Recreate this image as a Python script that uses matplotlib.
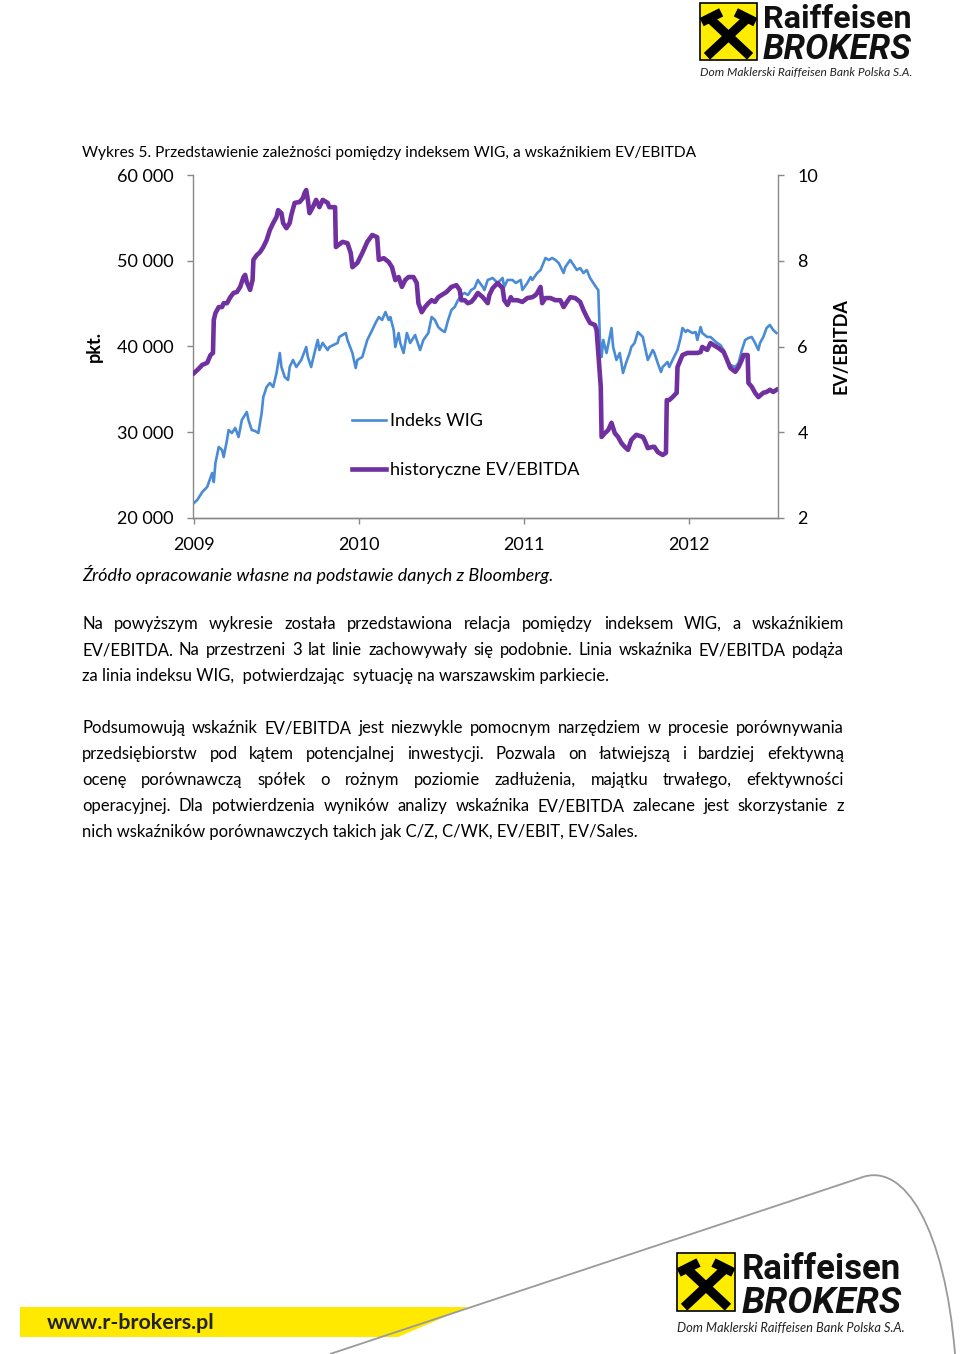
import matplotlib
matplotlib.use("Agg")
import matplotlib.pyplot as plt
from matplotlib.ticker import FuncFormatter, FixedLocator
from matplotlib.patches import Rectangle, Polygon, PathPatch
from matplotlib.path import Path
from matplotlib.lines import Line2D

plt.rcParams['font.family'] = ['Lato', 'DejaVu Sans']

# ---- data ----
wig_dates = [
    2009.00, 2009.02, 2009.05, 2009.08, 2009.11, 2009.12, 2009.13, 2009.15, 2009.17, 2009.18,
    2009.20, 2009.21, 2009.23, 2009.25, 2009.27, 2009.29, 2009.32, 2009.33, 2009.35, 2009.37,
    2009.39, 2009.41, 2009.42, 2009.44, 2009.46, 2009.48, 2009.50, 2009.52, 2009.53, 2009.55,
    2009.57, 2009.58, 2009.60, 2009.62, 2009.65, 2009.68, 2009.69, 2009.71, 2009.73, 2009.75,
    2009.76, 2009.78, 2009.81, 2009.82, 2009.87, 2009.88, 2009.92, 2009.93, 2009.96, 2009.98,
    2009.99, 2010.02, 2010.05, 2010.08, 2010.10, 2010.12, 2010.14, 2010.16, 2010.18, 2010.19,
    2010.21, 2010.22, 2010.24, 2010.25, 2010.27, 2010.29, 2010.31, 2010.34, 2010.37, 2010.39,
    2010.42, 2010.44, 2010.46, 2010.48, 2010.50, 2010.52, 2010.54, 2010.56, 2010.58, 2010.60,
    2010.62, 2010.64, 2010.66, 2010.68, 2010.70, 2010.72, 2010.75, 2010.76, 2010.78, 2010.81,
    2010.84, 2010.87, 2010.88, 2010.90, 2010.93, 2010.95, 2010.98, 2010.99, 2011.02, 2011.04,
    2011.05, 2011.08, 2011.10, 2011.13, 2011.15, 2011.17, 2011.19, 2011.21, 2011.24, 2011.25,
    2011.28, 2011.30, 2011.32, 2011.34, 2011.36, 2011.38, 2011.40, 2011.42, 2011.44, 2011.45,
    2011.46, 2011.47, 2011.48, 2011.50, 2011.53, 2011.54, 2011.56, 2011.58, 2011.60, 2011.62,
    2011.64, 2011.65, 2011.67, 2011.69, 2011.72, 2011.73, 2011.75, 2011.78, 2011.79, 2011.81,
    2011.83, 2011.84, 2011.87, 2011.88, 2011.90, 2011.93, 2011.95, 2011.96, 2011.98, 2011.99,
    2012.02, 2012.04, 2012.05, 2012.07, 2012.08, 2012.11, 2012.13, 2012.15, 2012.17, 2012.19,
    2012.21, 2012.23, 2012.25, 2012.28, 2012.30, 2012.32, 2012.34, 2012.36, 2012.38, 2012.40,
    2012.42, 2012.43, 2012.45, 2012.47, 2012.49, 2012.51, 2012.53,
]
wig_values = [
    21750, 22100, 23030, 23620, 25250, 24200, 26410, 28280, 27930, 27110,
    29100, 30260, 29910, 30500, 29450, 31430, 32360, 31430, 30260, 30150,
    29910, 32240, 34110, 35280, 35740, 35280, 36910, 39240, 37610, 36440,
    36090, 37610, 38430, 37610, 38430, 39940, 38780, 37610, 39240, 40760,
    39590, 40410, 39590, 39940, 40410, 41110, 41570, 40760, 39240, 37490,
    38430, 38780, 40760, 41920, 42740, 43440, 43090, 44020, 43090, 43440,
    41920, 39940, 41570, 40410, 39240, 41570, 40410, 41340, 39590, 40760,
    41570, 43440, 43090, 42270, 41920, 41690, 43090, 44260, 44610, 45420,
    46010, 46240, 46010, 46590, 46820, 47760, 46940, 46590, 47760, 47990,
    47410, 47990, 46940, 47760, 47760, 47410, 47760, 46590, 47410, 48100,
    47760, 48570, 48920, 50320, 50090, 50320, 50090, 49740, 48570, 49270,
    50090, 49500, 48920, 49150, 48570, 48920, 47990, 47410, 46820, 46590,
    40760, 38780, 40760, 39240, 42160, 39940, 38430, 39240, 36910, 38190,
    39240, 39940, 40410, 41690, 41110, 40170, 38430, 39590, 39240, 38080,
    37030, 37610, 38190, 37610, 38430, 39590, 41110, 42160, 41690, 41920,
    41570, 41690, 40760, 42270, 41570, 41110, 41110, 40760, 40410, 40170,
    39590, 38430, 37840, 37610, 38080, 39590, 40760, 40990, 41110, 40410,
    39590, 40410, 41110, 42160, 42510, 41920, 41570,
]

ev_dates = [
    2009.00, 2009.02, 2009.05, 2009.08, 2009.10, 2009.115, 2009.12, 2009.13, 2009.15, 2009.17,
    2009.18, 2009.20, 2009.22, 2009.24, 2009.26, 2009.28, 2009.30, 2009.31, 2009.32, 2009.34,
    2009.355, 2009.36, 2009.38, 2009.40, 2009.42, 2009.44, 2009.46, 2009.48, 2009.50, 2009.51,
    2009.53, 2009.54, 2009.56, 2009.58, 2009.59, 2009.61, 2009.64, 2009.66, 2009.67, 2009.68,
    2009.69, 2009.70, 2009.72, 2009.74, 2009.76, 2009.78, 2009.81, 2009.82, 2009.855, 2009.86,
    2009.90, 2009.93, 2009.95, 2009.96, 2009.99, 2010.02, 2010.05, 2010.08, 2010.11, 2010.12,
    2010.15, 2010.18, 2010.20, 2010.22, 2010.24, 2010.26, 2010.28, 2010.30, 2010.33, 2010.35,
    2010.36, 2010.38, 2010.40, 2010.42, 2010.44, 2010.46, 2010.48, 2010.50, 2010.53, 2010.56,
    2010.59, 2010.61, 2010.62, 2010.64, 2010.66, 2010.68, 2010.70, 2010.72, 2010.75, 2010.78,
    2010.79, 2010.81, 2010.84, 2010.87, 2010.88, 2010.90, 2010.92, 2010.93, 2010.96, 2010.99,
    2011.02, 2011.05, 2011.07, 2011.08, 2011.10, 2011.11, 2011.13, 2011.16, 2011.19, 2011.22,
    2011.24, 2011.26, 2011.28, 2011.31, 2011.34, 2011.36, 2011.38, 2011.40, 2011.43, 2011.44,
    2011.45, 2011.465, 2011.47, 2011.49, 2011.51, 2011.53, 2011.55, 2011.57, 2011.59, 2011.61,
    2011.63, 2011.65, 2011.68, 2011.72, 2011.73, 2011.75, 2011.78, 2011.79, 2011.81, 2011.84,
    2011.86, 2011.865, 2011.88, 2011.90, 2011.925, 2011.93, 2011.96, 2011.99, 2012.02, 2012.05,
    2012.07, 2012.08, 2012.11, 2012.13, 2012.15, 2012.18, 2012.21, 2012.23, 2012.25, 2012.28,
    2012.30, 2012.32, 2012.33, 2012.355, 2012.36, 2012.38, 2012.40, 2012.42, 2012.45, 2012.47,
    2012.49, 2012.51, 2012.53,
]
ev_values = [
    5.38, 5.45, 5.57, 5.62, 5.80, 5.85, 6.62, 6.78, 6.92, 6.92,
    7.01, 7.01, 7.15, 7.25, 7.27, 7.39, 7.62, 7.67, 7.50, 7.32,
    7.55, 8.02, 8.13, 8.20, 8.32, 8.48, 8.72, 8.88, 9.02, 9.18,
    9.11, 8.88, 8.76, 8.88, 9.07, 9.35, 9.37, 9.46, 9.58, 9.65,
    9.42, 9.11, 9.25, 9.42, 9.25, 9.42, 9.35, 9.25, 9.25, 8.32,
    8.44, 8.41, 8.18, 7.85, 7.95, 8.18, 8.44, 8.60, 8.55, 8.02,
    8.06, 7.97, 7.85, 7.55, 7.62, 7.39, 7.55, 7.62, 7.62, 7.48,
    7.01, 6.80, 6.92, 7.01, 7.08, 7.04, 7.15, 7.20, 7.27, 7.39,
    7.43, 7.32, 7.08, 7.08, 7.01, 7.04, 7.13, 7.25, 7.15, 7.01,
    7.20, 7.36, 7.48, 7.36, 7.08, 6.97, 7.15, 7.08, 7.08, 7.04,
    7.13, 7.15, 7.20, 7.25, 7.39, 7.01, 7.13, 7.13, 7.08, 7.08,
    6.92, 7.04, 7.15, 7.13, 7.04, 6.85, 6.69, 6.55, 6.50, 6.38,
    5.85, 5.06, 3.89, 3.98, 4.05, 4.22, 3.98, 3.89, 3.75, 3.66,
    3.59, 3.82, 3.94, 3.89, 3.82, 3.63, 3.66, 3.66, 3.54, 3.47,
    3.52, 4.75, 4.75, 4.82, 4.92, 5.52, 5.80, 5.85, 5.85, 5.85,
    5.87, 5.99, 5.92, 6.08, 6.03, 5.96, 5.87, 5.69, 5.50, 5.41,
    5.52, 5.69, 5.80, 5.80, 5.15, 5.06, 4.92, 4.82, 4.92, 4.94,
    4.99, 4.94, 4.99,
]

years = [2009, 2010, 2011, 2012]
wig_ticks = [20000, 30000, 40000, 50000, 60000]
ev_ticks = [2, 4, 6, 8, 10]

title = "Wykres 5. Przedstawienie zależności pomiędzy indeksem WIG, a wskaźnikiem EV/EBITDA"
source = "Źródło opracowanie własne na podstawie danych z Bloomberg."
para1 = [
    "Na powyższym wykresie została przedstawiona relacja pomiędzy indeksem WIG, a wskaźnikiem",
    "EV/EBITDA. Na przestrzeni 3 lat linie zachowywały się podobnie. Linia wskaźnika EV/EBITDA podąża",
    "za linia indeksu WIG,  potwierdzając  sytuację na warszawskim parkiecie.",
]
para2 = [
    "Podsumowują wskaźnik EV/EBITDA jest niezwykle pomocnym narzędziem w procesie porównywania",
    "przedsiębiorstw pod kątem potencjalnej inwestycji. Pozwala on  łatwiejszą i bardziej efektywną",
    "ocenę porównawczą spółek o rożnym poziomie zadłużenia, majątku trwałego, efektywności",
    "operacyjnej. Dla potwierdzenia wyników analizy wskaźnika EV/EBITDA zalecane jest  skorzystanie z",
    "nich wskaźników porównawczych takich jak C/Z, C/WK, EV/EBIT, EV/Sales.",
]

BLUE = "#4a8bd6"
PURPLE = "#7030a0"
GREY = "#898989"

W, H = 960, 1354
fig = plt.figure(figsize=(W / 100, H / 100), dpi=100)
renderer = fig.canvas.get_renderer()


def fx(x):
    return x / W


def fy(y):
    return 1 - y / H


def text_width(s, **kw):
    t = fig.text(0, 0, s, **kw)
    w = t.get_window_extent(renderer).width
    t.remove()
    return w


def fit_size(s, width, **kw):
    return 10 * width / text_width(s, fontsize=10, **kw)


# ---- chart ----
ax = fig.add_axes([fx(193), fy(518), (778 - 193) / W, (518 - 175) / H])
ax2 = ax.twinx()

l1, = ax.plot(wig_dates, wig_values, color=BLUE, lw=1.9, solid_joinstyle='round', label="Indeks WIG")
l2, = ax2.plot(ev_dates, ev_values, color=PURPLE, lw=3.3, solid_joinstyle='round',
               label="historyczne EV/EBITDA")

ax.set_xlim(2008.994, 2012.539)
ax.set_ylim(20000, 60000)
ax2.set_ylim(2, 10)
ax.xaxis.set_major_locator(FixedLocator(years))
ax.set_xticklabels([str(y) for y in years])
ax.yaxis.set_major_locator(FixedLocator(wig_ticks))
ax.yaxis.set_major_formatter(FuncFormatter(lambda v, p: f"{int(v):,}".replace(",", " ")))
ax2.yaxis.set_major_locator(FixedLocator(ev_ticks))

for a in (ax, ax2):
    a.spines['top'].set_visible(False)
    for s in ('left', 'right', 'bottom'):
        a.spines[s].set_color(GREY)
        a.spines[s].set_linewidth(1.0)
    a.tick_params(colors=GREY, labelcolor="black", labelsize=13, length=4, width=1.0, pad=10)
ax2.spines['left'].set_visible(False)
ax.spines['right'].set_visible(False)

ax.set_ylabel("pkt.", fontsize=13, fontweight='bold')
ax.yaxis.set_label_coords(-0.154, 0.5)
ax2.set_ylabel("EV/EBITDA", fontsize=13, fontweight='bold')
ax2.yaxis.set_label_coords(1.094, 0.5)

ax2.legend(handles=[l1, l2], loc='center left', bbox_to_anchor=(0.272, 0.211), frameon=False,
           fontsize=13, handlelength=1.85, handletextpad=0.25, labelspacing=1.8,
           borderpad=0, borderaxespad=0)

# ---- page texts ----
X0, X1 = 82, 844
fig.text(fx(X0), fy(157), title, fontsize=fit_size(title, 613), va='baseline')
fig.text(fx(X0), fy(581), source, fontsize=fit_size(source, 471, style='italic'),
         style='italic', va='baseline')

body_size = fit_size(para2[-1], 555)


def put_line(y, line, justify):
    if not justify:
        fig.text(fx(X0), fy(y), line, fontsize=body_size, va='baseline')
        return
    words = line.split()
    widths = [text_width(w, fontsize=body_size) for w in words]
    gap = (X1 - X0 - sum(widths)) / (len(words) - 1)
    x = X0
    for w, wd in zip(words, widths):
        fig.text(fx(x), fy(y), w, fontsize=body_size, va='baseline')
        x += wd + gap


for i, line in enumerate(para1):
    put_line(629 + 26 * i, line, i < len(para1) - 1)
for i, line in enumerate(para2):
    put_line(733 + 26 * i, line, i < len(para2) - 1)


# ---- logos ----
def logo(x, y, side, tx, tw, top1, top2, small_y, small_w):
    fig.add_artist(Rectangle((fx(x), fy(y + side)), side / W, side / H,
                             facecolor="#ffed00", edgecolor="black", lw=1.2))
    lw = side * 0.16 * 0.72
    fig.add_artist(Line2D([fx(x + side * 0.2), fx(x + side * 0.82)],
                          [fy(y + side * 0.3), fy(y + side * 0.88)], color="black", lw=lw))
    fig.add_artist(Line2D([fx(x + side * 0.8), fx(x + side * 0.18)],
                          [fy(y + side * 0.3), fy(y + side * 0.88)], color="black", lw=lw))
    fig.add_artist(Line2D([fx(x + side * 0.1), fx(x + side * 0.3)],
                          [fy(y + side * 0.3), fy(y + side * 0.2)], color="black", lw=lw))
    fig.add_artist(Line2D([fx(x + side * 0.9), fx(x + side * 0.7)],
                          [fy(y + side * 0.3), fy(y + side * 0.2)], color="black", lw=lw))
    fig.text(fx(tx), fy(top1), "Raiffeisen", family=['Roboto', 'DejaVu Sans'], fontweight='bold',
             fontsize=fit_size("Raiffeisen", tw, family=['Roboto'], fontweight='bold'),
             va='baseline', color="#111111")
    fig.text(fx(tx), fy(top2), "BROKERS", family=['Roboto', 'DejaVu Sans'], fontweight='bold',
             style='italic', fontsize=fit_size("BROKERS", tw, family=['Roboto'], fontweight='bold',
                                               style='italic'),
             va='baseline', color="#111111")
    small = "Dom Maklerski Raiffeisen Bank Polska S.A."
    fig.text(fx(x), fy(small_y), small, style='italic',
             fontsize=fit_size(small, small_w, style='italic'), va='baseline', color="#222222")


logo(700, 3, 57, 763, 149, 28, 59, 76, 213)
logo(677, 1253, 58, 742, 160, 1279, 1313, 1332, 228)

# bottom band and curve
fig.add_artist(Polygon([(fx(20), fy(1307)), (fx(468), fy(1307)), (fx(398), fy(1337)), (fx(20), fy(1337))],
                       closed=True, facecolor="#ffe900", edgecolor="none"))
fig.text(fx(47), fy(1329), "www.r-brokers.pl", fontweight='bold', color="#222222",
         fontsize=fit_size("www.r-brokers.pl", 168, fontweight='bold'), va='baseline')
verts = [(330, 1354), (860, 1178), (905, 1160), (945, 1230), (955, 1354)]
codes = [Path.MOVETO, Path.LINETO, Path.CURVE4, Path.CURVE4, Path.CURVE4]
fig.add_artist(PathPatch(Path([(fx(a), fy(b)) for a, b in verts], codes),
                         facecolor="none", edgecolor="#9a9a9a", lw=1.3, transform=fig.transFigure))

fig.savefig("out.png", dpi=100)
